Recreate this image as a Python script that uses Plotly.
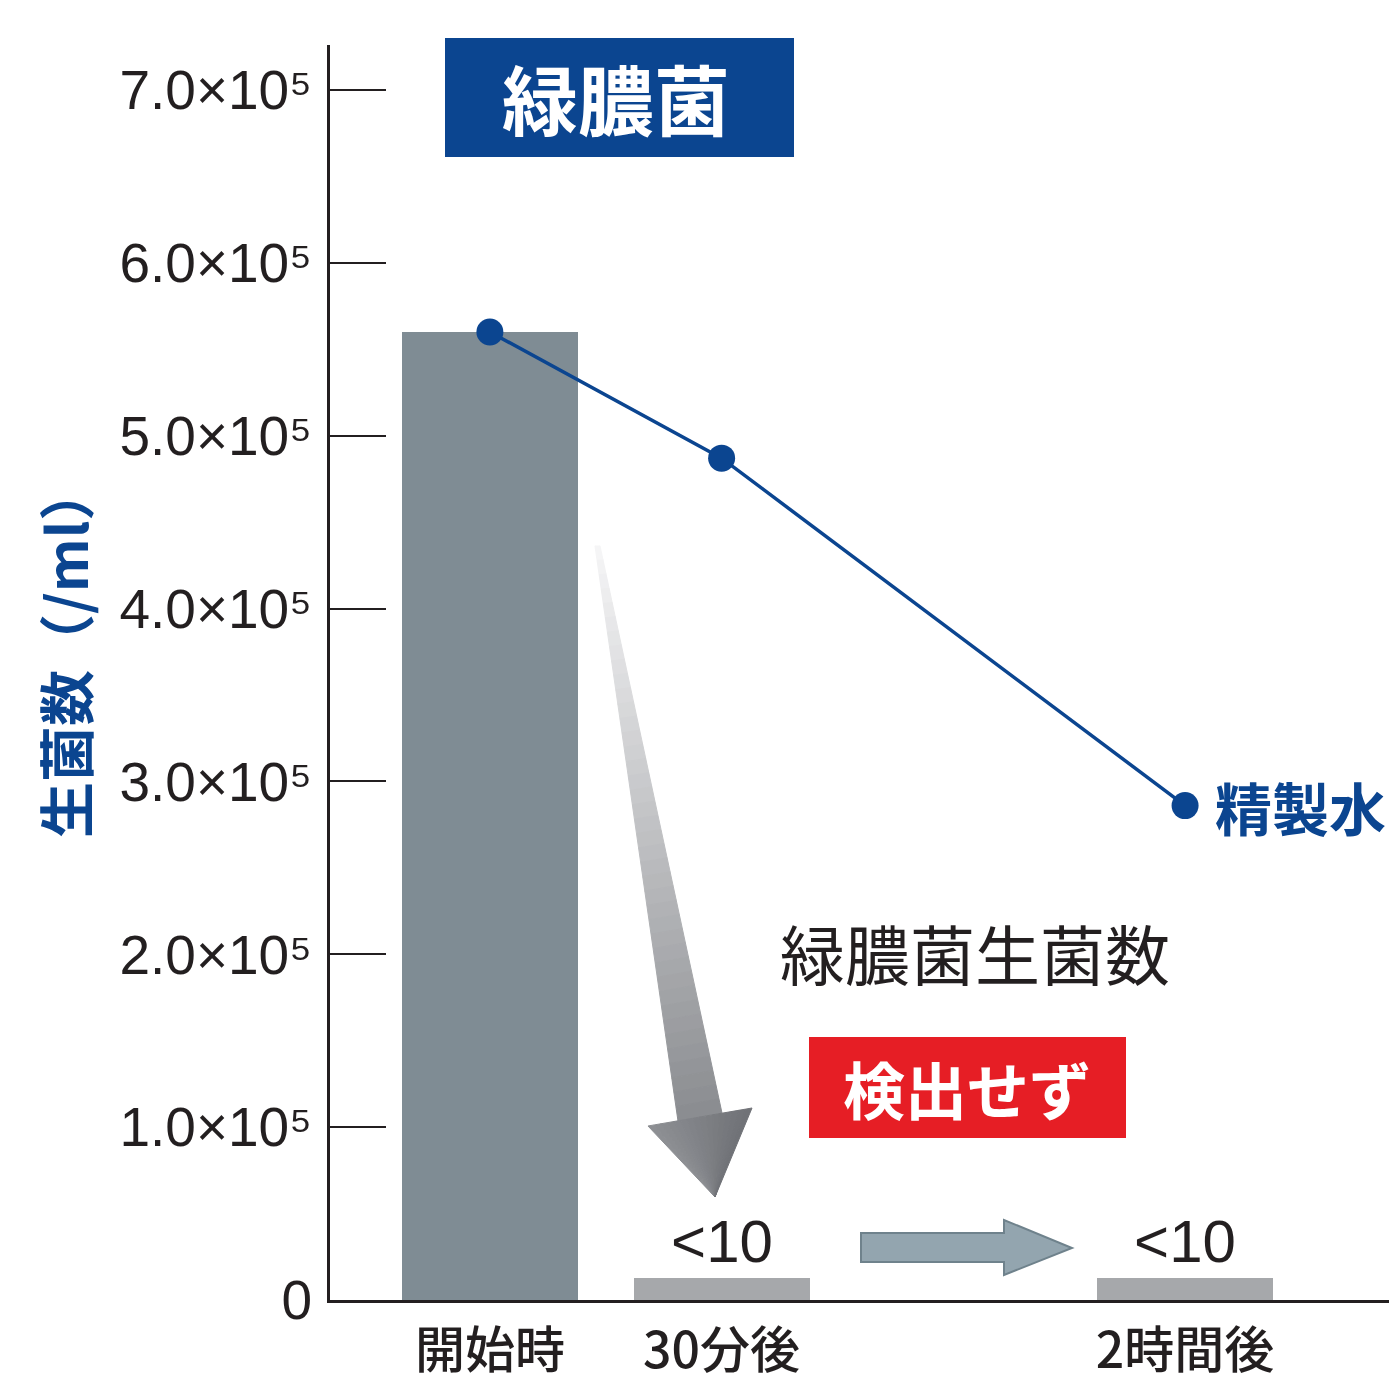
import plotly.graph_objects as go

# --- data -------------------------------------------------------------
categories = ["開始時", "30分後", "2時間後"]
time_pos = [0, 1, 3]                       # 0 min, 30 min, 2 h (in 30-min steps)
pseudomonas_counts = [5.6e5, 10, 10]       # viable count of P. aeruginosa (/ml)
count_labels = ["", "<10", "<10"]
purified_water = [5.6e5, 4.87e5, 2.86e5]   # control: purified water (/ml)
y_tickvals = [0, 1e5, 2e5, 3e5, 4e5, 5e5, 6e5, 7e5]
y_ticktext = ["0"] + [f"{m}.0×10⁵" for m in range(1, 8)]

# counts below detection are drawn as a thin stub so they stay visible
MIN_VISIBLE = 1.3e4
bar_heights = [max(v, MIN_VISIBLE) for v in pseudomonas_counts]

W, H = 1389, 1385
ML, MR, MT, MB = 330, 0, 45, 85
PW, PH = W - ML - MR, H - MT - MB

NAVY = "#0b4590"
INK = "#231f20"
JP = "Noto Sans CJK JP"


def px(x, y):
    """figure pixel -> paper coordinates"""
    return (x - ML) / PW, (H - MB - y) / PH


def path(points):
    pts = [px(x, y) for x, y in points]
    return "M " + " L ".join(f"{a:.5f},{b:.5f}" for a, b in pts) + " Z"


def mix(c0, c1, t):
    a = [int(c0[i:i + 2], 16) for i in (1, 3, 5)]
    b = [int(c1[i:i + 2], 16) for i in (1, 3, 5)]
    return "#" + "".join(f"{round(p + (q - p) * t):02x}" for p, q in zip(a, b))


def lerp(p, q, t):
    return (p[0] + (q[0] - p[0]) * t, p[1] + (q[1] - p[1]) * t)


fig = go.Figure()

fig.add_trace(go.Bar(
    x=time_pos, y=bar_heights, width=0.76,
    marker=dict(color=["#7f8c94", "#a6a8ab", "#a6a8ab"], line=dict(width=0)),
    text=count_labels, textposition="outside", cliponaxis=False,
    textfont=dict(family="Liberation Sans, Arial", size=60, color=INK),
    hoverinfo="skip", showlegend=False,
))

fig.add_trace(go.Scatter(
    x=time_pos, y=purified_water, mode="lines+markers",
    line=dict(color=NAVY, width=3.5),
    marker=dict(color=NAVY, size=27),
    showlegend=False, cliponaxis=False,
))

shapes = []

# tapering arrow with grey gradient (drawn as slim bands)
tail_l, tail_r = (595, 546), (600, 546)
base_l, base_r = (678, 1121), (722, 1113)
N = 40
for i in range(N):
    t0, t1 = i / N, (i + 1) / N
    quad = [lerp(tail_l, base_l, t0), lerp(tail_r, base_r, t0),
            lerp(tail_r, base_r, t1), lerp(tail_l, base_l, t1)]
    col = mix("#f6f6f7", "#8a8c90", (t0 + t1) / 2)
    shapes.append(dict(type="path", xref="paper", yref="paper", path=path(quad),
                       fillcolor=col, line=dict(color=col, width=1), layer="above"))

# arrow head: fan of thin slices, lighter on the left, darker on the right
head_a, head_b, tip = (648, 1126), (752, 1108), (715, 1197)
M = 16
for i in range(M):
    t0, t1 = i / M, (i + 1) / M
    tri = [lerp(head_a, head_b, t0), lerp(head_a, head_b, t1), tip]
    col = mix("#8e9094", "#6f7176", (t0 + t1) / 2)
    shapes.append(dict(type="path", xref="paper", yref="paper", path=path(tri),
                       fillcolor=col, line=dict(color=col, width=1), layer="above"))

# right-pointing arrow between the two later time points
rarrow = [(861, 1233), (1004, 1233), (1004, 1220), (1072, 1248),
          (1004, 1275), (1004, 1262), (861, 1262)]
shapes.append(dict(type="path", xref="paper", yref="paper", path=path(rarrow),
                   fillcolor="#93a5af", line=dict(color="#6f828c", width=2), layer="above"))

# title box and "not detected" box
for (x0, y0, x1, y1, c) in [(445, 38, 794, 157, NAVY), (809, 1037, 1126, 1138, "#e61e25")]:
    a0, b0 = px(x0, y1)
    a1, b1 = px(x1, y0)
    shapes.append(dict(type="rect", xref="paper", yref="paper", x0=a0, y0=b0, x1=a1, y1=b1,
                       fillcolor=c, line=dict(width=0), layer="above"))

annotations = []


def note(x, y, text, size, color, weight="normal", xanchor="center", angle=0, family=JP):
    a, b = px(x, y)
    annotations.append(dict(x=a, y=b, xref="paper", yref="paper", text=text, showarrow=False,
                            xanchor=xanchor, yanchor="middle", textangle=angle,
                            font=dict(family=family, size=size, color=color, weight=weight)))


note(616, 97, "緑膿菌", 76, "white", "bold")
note(967, 1088, "検出せず", 62, "white", "bold")
note(975, 952, "緑膿菌生菌数", 65, INK)
note(1213, 806, "精製水", 57, NAVY, "bold", xanchor="left")
note(64, 652, "生菌数（/ml）", 56, NAVY, "bold", angle=-90)

fig.update_layout(
    width=W, height=H,
    margin=dict(l=ML, r=MR, t=MT, b=MB),
    paper_bgcolor="white", plot_bgcolor="white",
    shapes=shapes, annotations=annotations,
    bargap=0,
    xaxis=dict(
        range=[-0.69, 3.88], tickvals=time_pos, ticktext=categories,
        showgrid=False, zeroline=False, ticks="",
        showline=True, linecolor=INK, linewidth=3,
        tickfont=dict(family="Noto Sans CJK JP Medium, Noto Sans CJK JP", size=50, color=INK),
        ticklabelstandoff=5,
    ),
    yaxis=dict(
        range=[0, 7.26e5], tickvals=y_tickvals, ticktext=y_ticktext,
        showgrid=False, zeroline=False,
        ticks="inside", ticklen=56, tickwidth=2, tickcolor=INK,
        showline=True, linecolor=INK, linewidth=3,
        tickfont=dict(family="Liberation Sans, Arial", size=55, color=INK),
        ticklabelstandoff=4,
    ),
)

fig.write_html("out.html")
